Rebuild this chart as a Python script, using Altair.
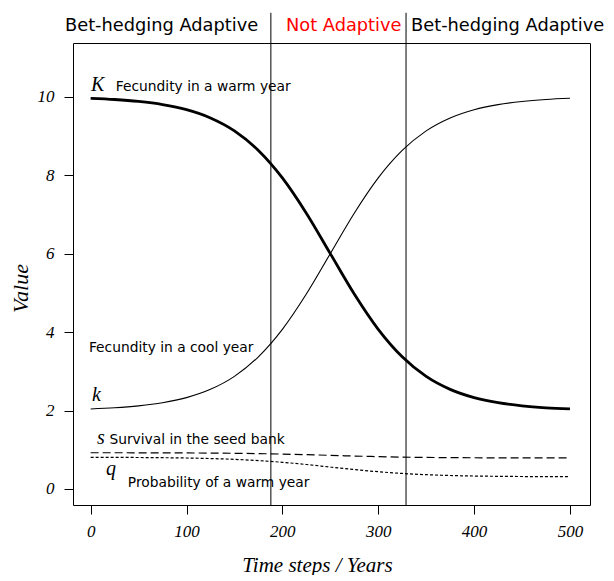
import altair as alt
import pandas as pd

# ---- data ----
years = [0, 25, 50, 75, 100, 125, 150, 175, 200, 225, 250,
         275, 300, 325, 350, 375, 400, 425, 450, 475, 500]
K_warm = [9.96, 9.93, 9.88, 9.80, 9.67, 9.46, 9.13, 8.63, 7.93, 7.03, 6.00,
          4.97, 4.07, 3.37, 2.87, 2.54, 2.33, 2.20, 2.12, 2.07, 2.04]
k_cool = [2.04, 2.07, 2.12, 2.20, 2.33, 2.54, 2.87, 3.37, 4.07, 4.97, 6.00,
          7.03, 7.93, 8.63, 9.13, 9.46, 9.67, 9.80, 9.88, 9.93, 9.96]
s_surv = [0.924, 0.924, 0.923, 0.922, 0.919, 0.916, 0.910, 0.902, 0.890, 0.875, 0.858,
          0.840, 0.825, 0.813, 0.805, 0.799, 0.796, 0.793, 0.792, 0.791, 0.791]
q_warm = [0.807, 0.806, 0.803, 0.798, 0.790, 0.776, 0.756, 0.724, 0.681, 0.624, 0.560,
          0.496, 0.440, 0.396, 0.365, 0.344, 0.331, 0.323, 0.318, 0.314, 0.313]

boundaries = [188, 329]
boundary_top = 12.14

region_labels = ["Bet-hedging Adaptive", "Not Adaptive", "Bet-hedging Adaptive"]
region_kind = ["adaptive", "not", "adaptive"]
region_x = [74, 264, 435]
region_y = [11.675, 11.675, 11.675]

symbol_text = ["K", "k", "s", "q"]
symbol_x = [0.3, 1.4, 6.6, 16.0]
symbol_y = [10.15, 2.25, 1.147, 0.357]

note_text = ["Fecundity in a warm year", "Fecundity in a cool year",
             "Survival in the seed bank", "Probability of a warm year"]
note_x = [26.3, -1.8, 19.6, 38.8]
note_y = [10.15, 3.49, 1.147, 0.051]

x_ticks = [0, 100, 200, 300, 400, 500]
y_ticks = [0, 2, 4, 6, 8, 10]

# ---- tables ----
curves = pd.DataFrame({"t": years, "K": K_warm, "k": k_cool, "s": s_surv, "q": q_warm})
bounds = pd.DataFrame({"t": boundaries, "top": [boundary_top] * len(boundaries),
                       "bottom": [-0.408] * len(boundaries)})
regions = pd.DataFrame({"label": region_labels, "kind": region_kind, "x": region_x, "y": region_y})
symbols = pd.DataFrame({"label": symbol_text, "x": symbol_x, "y": symbol_y})
notes = pd.DataFrame({"label": note_text, "x": note_x, "y": note_y})

SERIF = "Liberation Serif"
SANS = "DejaVu Sans"

x_scale = alt.Scale(domain=[-18.4, 520.9], nice=False, zero=False)
y_scale = alt.Scale(domain=[-0.408, 11.37], nice=False, zero=False)

x_axis = alt.Axis(values=x_ticks, title="Time steps / Years", format="d",
                  titleFont=SERIF, titleFontStyle="italic", titleFontSize=21,
                  titleFontWeight="normal", titleColor="black",
                  titleX=244, titleY=66, titleBaseline="alphabetic", titleAlign="center",
                  labelPadding=9, labelFlush=False)
y_axis = alt.Axis(values=y_ticks, title="Value", format="d",
                  titleFont=SERIF, titleFontStyle="italic", titleFontSize=22,
                  titleFontWeight="normal", titleColor="black",
                  titleAngle=270, titleX=-46, titleY=245, titleBaseline="alphabetic",
                  titleAlign="center", labelPadding=10, labelAngle=0,
                  labelAlign="right", labelBaseline="middle", labelFlush=False)


def X(field):
    return alt.X(field, type="quantitative", scale=x_scale, axis=x_axis)


def Y(field):
    return alt.Y(field, type="quantitative", scale=y_scale, axis=y_axis)


base = alt.Chart(curves)

line_K = base.mark_line(color="black", strokeWidth=2.8, interpolate="monotone").encode(x=X("t"), y=Y("K"))
line_k = base.mark_line(color="black", strokeWidth=1.1, interpolate="monotone").encode(x=X("t"), y=Y("k"))
line_s = base.mark_line(color="black", strokeWidth=1.2, strokeDash=[8, 4],
                        interpolate="monotone").encode(x=X("t"), y=Y("s"))
line_q = base.mark_line(color="black", strokeWidth=1.2, strokeDash=[3, 2],
                        interpolate="monotone").encode(x=X("t"), y=Y("q"))

rules = alt.Chart(bounds).mark_rule(color="black", strokeWidth=1).encode(
    x=X("t"), y=Y("top"), y2="bottom")

region_text = alt.Chart(regions).mark_text(
    font=SANS, fontSize=17.8, align="center", baseline="alphabetic").encode(
    x=X("x"), y=Y("y"), text="label",
    color=alt.Color("kind:N", scale=alt.Scale(domain=["adaptive", "not"], range=["black", "red"]),
                    legend=None))

symbol_layer = alt.Chart(symbols).mark_text(
    font=SERIF, fontStyle="italic", fontSize=20, align="left", baseline="alphabetic",
    color="black").encode(x=X("x"), y=Y("y"), text="label")

note_layer = alt.Chart(notes).mark_text(
    font=SANS, fontSize=13.8, align="left", baseline="alphabetic",
    color="black").encode(x=X("x"), y=Y("y"), text="label")

chart = alt.layer(line_K, line_k, line_s, line_q, rules, region_text, symbol_layer, note_layer).properties(
    width=517, height=462,
    autosize=alt.AutoSizeParams(type="none"),
    padding={"left": 65, "top": 35, "right": 16, "bottom": 70},
    background="white",
).configure_view(
    stroke="black", strokeWidth=1
).configure_axis(
    domain=False, grid=False, ticks=True, tickColor="black", tickSize=9, tickWidth=1,
    labelFont=SERIF, labelFontStyle="italic", labelFontSize=17, labelColor="black",
)

chart.save("out.html", embed_options={"renderer": "svg", "actions": False})
